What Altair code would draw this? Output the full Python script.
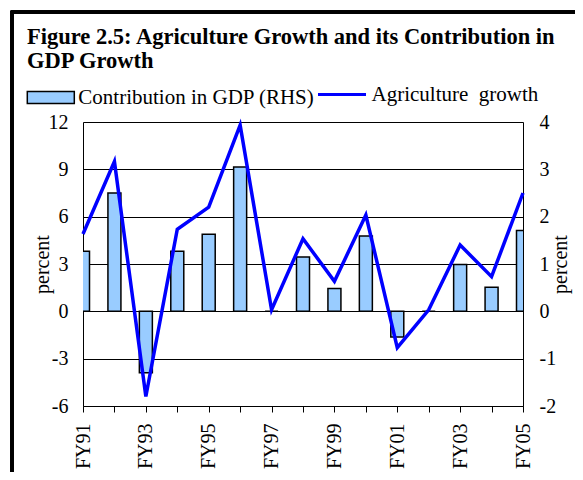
import altair as alt
import pandas as pd

# ---- data ----
years = ["FY91", "FY92", "FY93", "FY94", "FY95", "FY96", "FY97", "FY98",
         "FY99", "FY00", "FY01", "FY02", "FY03", "FY04", "FY05"]
agri_growth = [4.9, 9.5, -5.4, 5.2, 6.6, 11.8, 0.1, 4.6, 1.9, 6.1, -2.3, 0.1, 4.2, 2.2, 7.5]
gdp_contribution = [1.27, 2.5, -1.3, 1.27, 1.63, 3.05, 0.0, 1.15, 0.48, 1.59, -0.54, 0.0, 0.99, 0.51, 1.71]
labelled_years = ["FY91", "FY93", "FY95", "FY97", "FY99", "FY01", "FY03", "FY05"]
left_ticks = [-6, -3, 0, 3, 6, 9, 12]
right_ticks = [-2, -1, 0, 1, 2, 3, 4]
bar_name = "Contribution in GDP (RHS)"
line_name = "Agriculture\u00a0 growth"
title_lines = ["Figure 2.5: Agriculture Growth and its Contribution in", "GDP Growth"]

df = pd.DataFrame({
    "year": years,
    "growth": agri_growth,
    "contrib": gdp_contribution,
    "bar_series": bar_name,
    "line_series": line_name,
})

FONT = "'Liberation Serif', 'Times New Roman', serif"
label_list = "[" + ",".join("'%s'" % y for y in labelled_years) + "]"
hyphen_expr = "replace(datum.label, '\u2212', '-')"

x_enc = alt.X(
    "year:O",
    sort=years,
    scale=alt.Scale(type="point", padding=0),
    axis=alt.Axis(
        title=None, labelAngle=270, labelAlign="right", labelBaseline="middle",
        labelFont=FONT, labelFontSize=20, labelColor="black",
        labelExpr="indexof(" + label_list + ", datum.label) >= 0 ? datum.label : ''",
        tickSize=6, tickColor="black", domainColor="black", labelPadding=11,
        grid=False, labelOverlap=False,
    ),
)

bars = alt.Chart(df).mark_bar(
    size=13, stroke="black", strokeWidth=1.5, clip=True
).encode(
    x=x_enc,
    y=alt.Y(
        "contrib:Q",
        scale=alt.Scale(domain=[-2, 4], nice=False, zero=False),
        axis=alt.Axis(
            orient="right", values=right_ticks, grid=False, tickSize=0,
            labelFont=FONT, labelFontSize=20, labelColor="black", labelPadding=16,
            labelExpr=hyphen_expr,
            domainColor="black", title="percent", titleFont=FONT, titleFontSize=20,
            titleFontWeight="normal", titleColor="black", titleAngle=270,
            titleX=37, titleY=142, titleBaseline="middle", titleAlign="center",
        ),
    ),
    y2=alt.datum(0),
    color=alt.Color(
        "bar_series:N",
        scale=alt.Scale(range=["#99CCFF"]),
        legend=alt.Legend(
            title=None, orient="none", legendX=-56.7, legendY=-49,
            symbolType="M-1,-0.255H1V0.255H-1Z", symbolSize=2209,
            symbolStrokeColor="black", symbolStrokeWidth=1.5, symbolOpacity=1,
            labelFont=FONT, labelFontSize=21, labelColor="black", labelOffset=3,
            labelLimit=400, padding=0,
        ),
    ),
)

line = alt.Chart(df).mark_line(strokeWidth=3.5).encode(
    x=x_enc,
    y=alt.Y(
        "growth:Q",
        scale=alt.Scale(domain=[-6, 12], nice=False, zero=False),
        axis=alt.Axis(
            orient="left", values=left_ticks, grid=True, gridColor="black",
            gridWidth=1, gridOpacity=1, tickSize=0,
            labelFont=FONT, labelFontSize=20, labelColor="black", labelPadding=15,
            labelExpr=hyphen_expr,
            domainColor="black", title="percent", titleFont=FONT, titleFontSize=20,
            titleFontWeight="normal", titleColor="black", titleAngle=270,
            titleX=-41, titleY=142, titleBaseline="middle", titleAlign="center",
        ),
    ),
    stroke=alt.Stroke(
        "line_series:N",
        scale=alt.Scale(range=["#0000FF"]),
        legend=alt.Legend(
            title=None, orient="none", legendX=233.5, legendY=-53,
            symbolType="stroke", symbolSize=2304, symbolStrokeWidth=3,
            labelFont=FONT, labelFontSize=21, labelColor="black", labelOffset=4,
            labelLimit=400, padding=0,
        ),
    ),
)

frame = alt.Chart(df).mark_rect(
    fill=None, stroke="black", strokeWidth=2.5
).encode(
    x=alt.value(-71), x2=alt.value(640), y=alt.value(-110), y2=alt.value(420)
)

chart = alt.layer(bars, line, frame).resolve_scale(
    y="independent", color="independent", stroke="independent"
).properties(
    width=440,
    height=284,
    padding={"left": 75, "top": 114, "right": 52, "bottom": 66},
    autosize=alt.AutoSizeParams(type="none"),
    title=alt.TitleParams(
        text=title_lines, anchor="start", frame="group", font=FONT,
        fontSize=22.5, fontWeight="bold", color="black", lineHeight=24,
        dx=-56, dy=62, offset=0,
    ),
).configure_view(stroke="black", strokeWidth=1).configure(background="white")

chart.save("out.html", embed_options={"renderer": "svg", "actions": False})
